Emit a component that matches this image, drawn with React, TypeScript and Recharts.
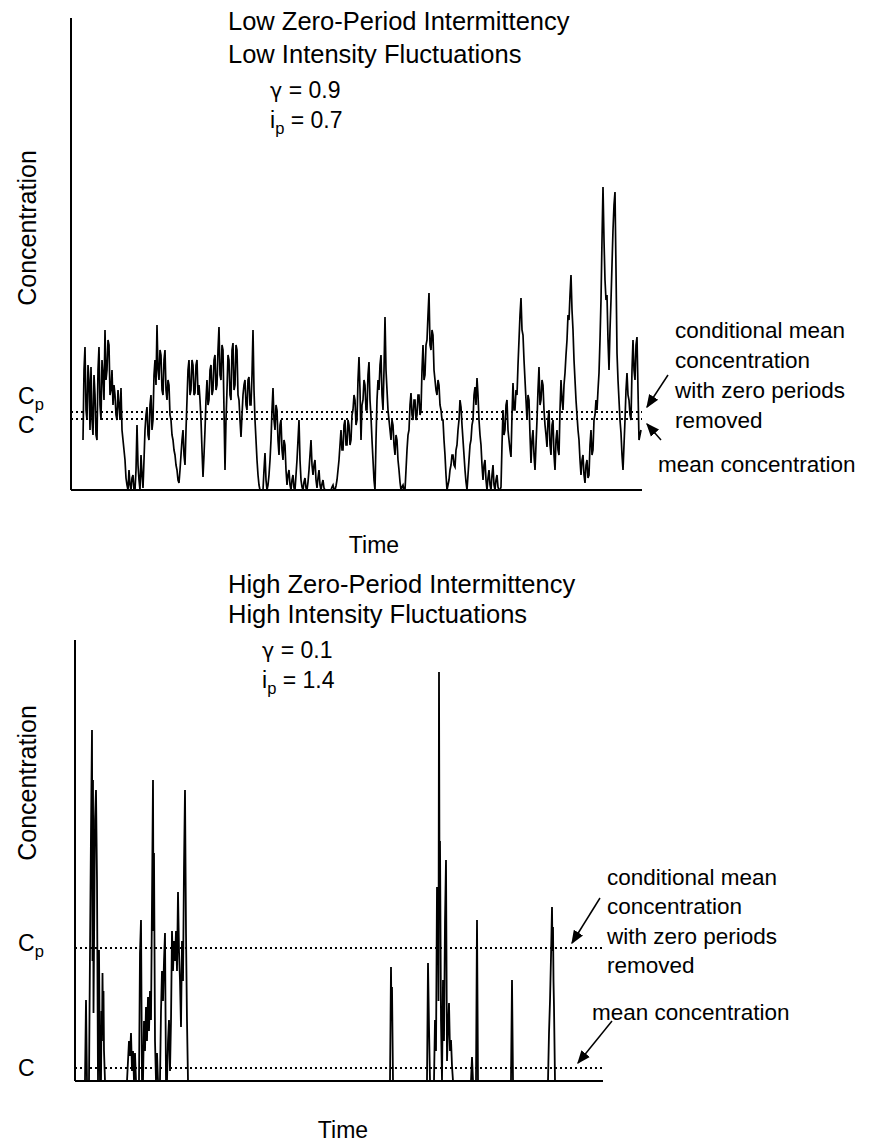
import { LineChart, Line, XAxis, YAxis, ReferenceLine } from 'recharts'

const FONT = '"Liberation Sans", Arial, Helvetica, sans-serif'
const INK = '#000'

// Upper record: low zero-period intermittency, sampled every 1 s from t = 12 s
const UPPER_T0 = 12
const UPPER_DT = 1
const UPPER_CONC = [
  50, 120, 143, 80, 70, 125, 110, 60, 123, 70, 55, 115, 95, 55, 50, 120, 143, 85, 70, 130,
  115, 90, 160, 110, 120, 150, 145, 95, 100, 120, 85, 105, 95, 75, 70, 100, 85, 70, 102, 60,
  50, 40, 30, 12, 5, 0, 20, 5, 0, 12, 15, 0, 0, 20, 65, 25, 10, 0, 35, 15,
  2, 30, 60, 75, 83, 55, 50, 85, 95, 60, 70, 115, 130, 105, 165, 120, 110, 140, 135, 100,
  95, 130, 140, 100, 90, 110, 105, 75, 70, 55, 50, 40, 35, 25, 20, 10, 7, 20, 35, 50,
  60, 35, 25, 60, 90, 120, 130, 95, 100, 130, 125, 95, 97, 125, 130, 95, 105, 90, 70, 40,
  13, 35, 60, 90, 110, 85, 90, 120, 125, 95, 100, 130, 135, 100, 105, 140, 163, 115, 110, 145,
  140, 80, 20, 70, 100, 135, 130, 95, 90, 140, 147, 100, 105, 145, 140, 95, 90, 70, 53, 75,
  95, 105, 110, 85, 80, 110, 113, 85, 85, 115, 160, 100, 70, 50, 30, 15, 5, 0, 0, 0,
  0, 20, 37, 10, 0, 5, 15, 30, 50, 80, 102, 70, 60, 85, 80, 50, 35, 65, 70, 40,
  30, 50, 45, 20, 5, 15, 20, 5, 0, 10, 15, 2, 0, 15, 30, 50, 70, 30, 10, 3,
  0, 8, 12, 2, 0, 8, 20, 35, 50, 25, 15, 25, 30, 10, 2, 12, 20, 5, 0, 6,
  10, 2, 0, 0, 0, 0, 0, 0, 0, 3, 5, 0, 0, 4, 10, 20, 30, 45, 60, 40,
  40, 65, 70, 45, 45, 70, 65, 45, 50, 75, 80, 95, 90, 65, 70, 110, 133, 100, 50, 85,
  90, 110, 105, 80, 80, 115, 128, 90, 73, 50, 30, 10, 0, 50, 90, 110, 100, 125, 135, 95,
  80, 120, 173, 120, 100, 80, 70, 60, 50, 70, 65, 45, 35, 55, 50, 30, 20, 8, 0, 3,
  5, 0, 0, 20, 40, 55, 60, 85, 97, 75, 70, 90, 90, 70, 75, 95, 95, 75, 80, 120,
  145, 110, 115, 145, 150, 175, 197, 145, 140, 160, 155, 120, 110, 100, 95, 110, 105, 85, 80, 70,
  70, 50, 35, 15, 0, 5, 10, 20, 25, 35, 35, 25, 23, 40, 45, 60, 70, 90, 83, 65,
  50, 35, 20, 8, 0, 15, 30, 45, 50, 65, 70, 95, 103, 85, 112, 95, 70, 55, 45, 25,
  10, 25, 30, 10, 0, 12, 20, 5, 0, 15, 25, 5, 0, 10, 15, 3, 0, 0, 3, 45,
  80, 55, 60, 85, 90, 60, 50, 40, 33, 75, 107, 80, 80, 100, 95, 125, 150, 175, 192, 160,
  155, 130, 110, 90, 70, 95, 90, 55, 27, 50, 60, 35, 20, 45, 70, 100, 123, 85, 90, 110,
  105, 80, 65, 55, 43, 70, 80, 45, 35, 65, 70, 35, 20, 50, 60, 40, 35, 80, 110, 90,
  80, 105, 117, 135, 150, 175, 170, 195, 215, 180, 160, 130, 110, 90, 75, 60, 50, 30, 15, 30,
  35, 15, 7, 25, 30, 12, 15, 45, 60, 35, 40, 70, 75, 90, 80, 100, 117, 150, 190, 250,
  303, 250, 210, 190, 195, 150, 120, 160, 190, 225, 260, 285, 298, 220, 137, 110, 90, 70, 57, 35,
  20, 45, 70, 100, 117, 95, 90, 75, 70, 120, 150, 120, 110, 145, 153, 100, 50, 55, 60,
]
const UPPER_T_MAX = 571
const UPPER_C_MAX = 472
const UPPER_MEAN = 71
const UPPER_COND_MEAN = 78

// Lower record: high zero-period intermittency, bursts separated by zero periods
const LOWER_TIME = [
  0, 10, 11, 12, 14, 15, 16, 17, 17.5, 18, 18.5, 20, 21, 22, 22.5, 23, 24, 25, 26, 26.5, 27, 27.5, 28, 28.5, 29, 30,
  52, 53, 54, 55, 56, 57, 58, 59, 60, 61, 64, 65, 66, 67, 68, 69, 70, 71, 72, 73, 74, 75, 76, 77, 78, 78.5, 79, 80, 81, 82, 83,
  85, 86, 87, 88, 89, 90, 91, 92, 93, 94, 95, 96, 97, 98, 99, 100, 101, 102, 103, 104, 105, 106, 107, 108, 109, 110, 111, 112, 113,
  315, 316, 316.5, 317, 318,
  352, 353, 354, 355,
  359, 360, 361, 362, 362.5, 363, 363.5, 364, 364.5, 365, 366, 367, 368, 369, 370, 371, 372, 373, 374, 375, 376, 377, 378,
  396, 397, 398,
  401, 402, 403,
  436, 437, 438,
  473, 474, 475, 476, 477, 477.5, 478, 478.5, 479, 480,
  528,
]
const LOWER_CONC = [
  0, 0, 81, 0, 0, 130, 250, 351, 120, 301, 68, 261, 291, 200, 100, 0, 131, 0, 0, 70, 40, 108, 60, 90, 30, 0,
  0, 20, 40, 25, 48, 10, 30, 0, 28, 0, 0, 128, 161, 0, 0, 60, 30, 74, 40, 84, 50, 90, 61, 180, 301, 150, 228, 40, 0, 28, 0,
  0, 70, 110, 80, 120, 148, 0, 0, 40, 61, 10, 60, 150, 110, 140, 120, 150, 110, 189, 130, 100, 54, 140, 100, 214, 291, 148, 60, 0,
  0, 114, 60, 94, 0,
  0, 118, 54, 0,
  0, 61, 30, 194, 120, 194, 80, 409, 200, 240, 60, 0, 101, 40, 160, 221, 20, 51, 78, 30, 41, 15, 0,
  0, 24, 0,
  0, 161, 0,
  0, 101, 0,
  0, 48, 80, 124, 174, 130, 154, 100, 74, 0,
  0,
]
const LOWER_T_MAX = 528
const LOWER_C_MAX = 441
const LOWER_MEAN = 13
const LOWER_COND_MEAN = 133

const upperData = UPPER_CONC.map((c, i) => ({ t: UPPER_T0 + i * UPPER_DT, c }))
const lowerData = LOWER_TIME.map((t, i) => ({ t, c: LOWER_CONC[i] }))

interface TraceProps {
  data: { t: number; c: number }[]
  top: number
  height: number
  margin: { top: number; right: number; bottom: number; left: number }
  tMax: number
  cMax: number
  mean: number
  condMean: number
  weight: number
}

function Trace({ data, top, height, margin, tMax, cMax, mean, condMean, weight }: TraceProps) {
  return (
    <div style={{ position: 'absolute', left: 0, top }}>
      <LineChart width={869} height={height} data={data} margin={margin}>
        <XAxis type="number" dataKey="t" domain={[0, tMax]} allowDataOverflow hide />
        <YAxis type="number" domain={[0, cMax]} allowDataOverflow hide />
        <ReferenceLine y={condMean} stroke={INK} strokeWidth={2.2} strokeDasharray="2 3" />
        <ReferenceLine y={mean} stroke={INK} strokeWidth={2.2} strokeDasharray="2 3" />
        <Line
          type="linear"
          dataKey="c"
          stroke={INK}
          strokeWidth={weight}
          dot={false}
          isAnimationActive={false}
        />
        {/* axes drawn as plain frame lines, no ticks */}
        <ReferenceLine x={0} stroke={INK} strokeWidth={2} />
        <ReferenceLine y={0} stroke={INK} strokeWidth={2} />
      </LineChart>
    </div>
  )
}

function Note({
  x,
  y,
  size = 22.5,
  children,
}: {
  x: number
  y: number
  size?: number
  children: React.ReactNode
}) {
  return (
    <div
      style={{
        position: 'absolute',
        left: x,
        top: y - size / 2,
        fontSize: size,
        lineHeight: `${size}px`,
        whiteSpace: 'nowrap',
        fontFamily: FONT,
        color: INK,
      }}
    >
      {children}
    </div>
  )
}

function Sub({ children }: { children: React.ReactNode }) {
  return (
    <span style={{ fontSize: '0.72em', position: 'relative', top: '0.38em' }}>{children}</span>
  )
}

// gamma set in DejaVu so it reads as a Greek letter rather than a "y"
function Gamma() {
  return <span style={{ fontFamily: '"DejaVu Sans", sans-serif', fontSize: '0.9em' }}>γ</span>
}

function AxisTitle({
  x,
  y,
  text,
  size,
  vertical,
}: {
  x: number
  y: number
  text: string
  size: number
  vertical?: boolean
}) {
  return (
    <div
      style={{
        position: 'absolute',
        left: x,
        top: y,
        transform: vertical ? 'translate(-50%, -50%) rotate(-90deg)' : 'translate(-50%, -50%)',
        fontSize: size,
        lineHeight: `${size}px`,
        whiteSpace: 'nowrap',
        fontFamily: FONT,
        color: INK,
      }}
    >
      {text}
    </div>
  )
}

const TITLE = 25.5
const PARAM = 23

const ARROWS = [
  [668, 375, 647, 407],
  [661, 440, 647, 424],
  [600, 898, 572, 943],
  [612, 1021, 578, 1063],
]

export default function App() {
  return (
    <div style={{ position: 'absolute', left: 0, top: 0, width: 869, height: 1144, background: '#fff' }}>
      <Trace
        data={upperData}
        top={0}
        height={500}
        margin={{ top: 18, right: 227, bottom: 10, left: 71 }}
        tMax={UPPER_T_MAX}
        cMax={UPPER_C_MAX}
        mean={UPPER_MEAN}
        condMean={UPPER_COND_MEAN}
        weight={1.7}
      />
      <Trace
        data={lowerData}
        top={560}
        height={530}
        margin={{ top: 80, right: 266, bottom: 9, left: 75 }}
        tMax={LOWER_T_MAX}
        cMax={LOWER_C_MAX}
        mean={LOWER_MEAN}
        condMean={LOWER_COND_MEAN}
        weight={1.8}
      />

      <Note x={228} y={22} size={TITLE}>Low Zero-Period Intermittency</Note>
      <Note x={228} y={55} size={TITLE}>Low Intensity Fluctuations</Note>
      <Note x={270} y={90} size={PARAM}>
        <Gamma /> = 0.9
      </Note>
      <Note x={270} y={120} size={PARAM}>
        i<Sub>p</Sub> = 0.7
      </Note>
      <AxisTitle x={27} y={228} size={25} text="Concentration" vertical />
      <Note x={18} y={396} size={PARAM}>
        C<Sub>p</Sub>
      </Note>
      <Note x={18} y={425} size={PARAM}>C</Note>
      <Note x={675} y={331}>conditional mean</Note>
      <Note x={675} y={361}>concentration</Note>
      <Note x={675} y={391}>with zero periods</Note>
      <Note x={675} y={421}>removed</Note>
      <Note x={658} y={465}>mean concentration</Note>
      <AxisTitle x={374} y={545} size={23} text="Time" />

      <Note x={228} y={585} size={TITLE}>High Zero-Period Intermittency</Note>
      <Note x={228} y={615} size={TITLE}>High Intensity Fluctuations</Note>
      <Note x={262} y={650} size={PARAM}>
        <Gamma /> = 0.1
      </Note>
      <Note x={262} y={680} size={PARAM}>
        i<Sub>p</Sub> = 1.4
      </Note>
      <AxisTitle x={27} y={783} size={25} text="Concentration" vertical />
      <Note x={18} y={943} size={PARAM}>
        C<Sub>p</Sub>
      </Note>
      <Note x={18} y={1068} size={PARAM}>C</Note>
      <Note x={607} y={878}>conditional mean</Note>
      <Note x={607} y={907}>concentration</Note>
      <Note x={607} y={937}>with zero periods</Note>
      <Note x={607} y={966}>removed</Note>
      <Note x={592} y={1013}>mean concentration</Note>
      <AxisTitle x={343} y={1130} size={23} text="Time" />

      <svg
        width={869}
        height={1144}
        style={{ position: 'absolute', left: 0, top: 0, pointerEvents: 'none' }}
      >
        <defs>
          <marker id="head" viewBox="0 0 10 10" refX="9" refY="5" markerWidth="9" markerHeight="9" orient="auto">
            <path d="M0,1 L10,5 L0,9 z" fill={INK} />
          </marker>
        </defs>
        {ARROWS.map(([x1, y1, x2, y2], i) => (
          <line key={i} x1={x1} y1={y1} x2={x2} y2={y2} stroke={INK} strokeWidth={1.5} markerEnd="url(#head)" />
        ))}
      </svg>
    </div>
  )
}
